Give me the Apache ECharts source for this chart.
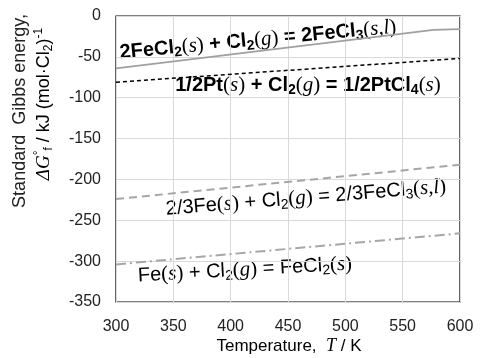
<!DOCTYPE html>
<html>
<head>
<meta charset="utf-8">
<script src="https://cdn.jsdelivr.net/npm/echarts@6/dist/echarts.min.js"></script>
<style>
  html, body { margin: 0; padding: 0; background: #fff; }
  #main { width: 480px; height: 358px; }
</style>
</head>
<body>
<div id="main"></div>
<script>
// 温度 (K) 和 标准生成吉布斯能 (kJ/mol Cl2)
const xTicks = [300, 350, 400, 450, 500, 550, 600];
const yTicks = [0, -50, -100, -150, -200, -250, -300, -350];

const feCl3Temps = [300, 577, 600];
const feCl3Vals = [-64, -17, -16];

const ptCl4Temps = [300, 600];
const ptCl4Vals = [-81, -52];

const fe23Temps = [300, 600];
const fe23Vals = [-224, -182];

const feCl2Temps = [300, 600];
const feCl2Vals = [-304, -266];

function pairs(xs, ys) {
    return xs.map((x, i) => [x, ys[i]]);
}

const SANS = 'Liberation Sans';
const SERIF = 'Liberation Serif';

function richSet(weight, color, size) {
    const lh = size + 4;
    return {
        t: { fontFamily: SANS, fontWeight: weight, fontSize: size, color: color, lineHeight: lh },
        s: { fontFamily: SANS, fontWeight: weight, fontSize: Math.round(size * 0.7), color: color, lineHeight: lh, verticalAlign: 'bottom' },
        p: { fontFamily: SERIF, fontSize: size + 1, color: color, lineHeight: lh },
        i: { fontFamily: SERIF, fontStyle: 'italic', fontSize: size + 1, color: color, lineHeight: lh }
    };
}

const chart = echarts.init(document.getElementById('main'), null, { renderer: 'canvas' });

const lineBase = { type: 'line', symbol: 'none', silent: true, animation: false };

const option = {
    animation: false,
    backgroundColor: '#fff',
    grid: {
        left: 116, right: 20, top: 16, bottom: 56,
        show: true, borderColor: '#000', borderWidth: 1.2
    },
    xAxis: {
        type: 'value', min: 300, max: 600, interval: 50,
        axisLine: { show: false }, axisTick: { show: false },
        splitLine: { lineStyle: { color: '#d9d9d9', width: 1 } },
        axisLabel: { fontFamily: SANS, fontSize: 16, color: '#222', margin: 17 }
    },
    yAxis: {
        type: 'value', min: -350, max: 0, interval: 50,
        axisLine: { show: false }, axisTick: { show: false },
        splitLine: { lineStyle: { color: '#d9d9d9', width: 1 } },
        axisLabel: { fontFamily: SANS, fontSize: 16, color: '#222', margin: 15 }
    },
    series: [
        Object.assign({}, lineBase, {
            name: 'FeCl3', data: pairs(feCl3Temps, feCl3Vals),
            lineStyle: { color: '#a0a0a0', width: 1.8, type: 'solid' }
        }),
        Object.assign({}, lineBase, {
            name: 'PtCl4', data: pairs(ptCl4Temps, ptCl4Vals),
            lineStyle: { color: '#000', width: 1.5, type: [4, 3] }
        }),
        Object.assign({}, lineBase, {
            name: 'Fe-FeCl3', data: pairs(fe23Temps, fe23Vals),
            lineStyle: { color: '#a6a6a6', width: 2, type: [8, 5] }
        }),
        Object.assign({}, lineBase, {
            name: 'Fe-FeCl2', data: pairs(feCl2Temps, feCl2Vals),
            lineStyle: { color: '#a6a6a6', width: 2, type: [10, 4, 2, 4] }
        })
    ],
    graphic: [
        {
            type: 'text', x: 258, y: 40, rotation: 5.3 * Math.PI / 180, silent: true,
            style: {
                text: '{t|2FeCl}{s|2}{p|(}{i|s}{p|)}{t| + Cl}{s|2}{p|(}{i|g}{p|)}{t| = 2FeCl}{s|3}{p|(}{i|s,l}{p|)}',
                align: 'center', verticalAlign: 'middle',
                rich: richSet('bold', '#000', 20)
            }
        },
        {
            type: 'text', x: 308, y: 85, silent: true,
            style: {
                text: '{t|1/2Pt}{p|(}{i|s}{p|)}{t| + Cl}{s|2}{p|(}{i|g}{p|)}{t| = 1/2PtCl}{s|4}{p|(}{i|s}{p|)}',
                align: 'center', verticalAlign: 'middle',
                rich: richSet('bold', '#000', 20)
            }
        },
        {
            type: 'text', x: 306, y: 198, rotation: 4.6 * Math.PI / 180, silent: true,
            style: {
                text: '{t|2/3Fe}{p|(}{i|s}{p|)}{t| + Cl}{s|2}{p|(}{i|g}{p|)}{t| = 2/3FeCl}{s|3}{p|(}{i|s,l}{p|)}',
                align: 'center', verticalAlign: 'middle',
                rich: richSet('normal', '#222', 20)
            }
        },
        {
            type: 'text', x: 245, y: 270, rotation: 3.2 * Math.PI / 180, silent: true,
            style: {
                text: '{t|Fe}{p|(}{i|s}{p|)}{t| + Cl}{s|2}{p|(}{i|g}{p|)}{t| = FeCl}{s|2}{p|(}{i|s}{p|)}',
                align: 'center', verticalAlign: 'middle',
                rich: richSet('normal', '#222', 20)
            }
        },
        // y轴标题
        {
            type: 'text', x: 20, y: 111, rotation: Math.PI / 2, silent: true,
            style: {
                text: 'Standard  Gibbs energy,',
                font: '18px "Liberation Sans"', fill: '#222',
                align: 'center', verticalAlign: 'middle'
            }
        },
        {
            type: 'text', x: 44, y: 104, rotation: Math.PI / 2, silent: true,
            style: {
                text: '{gi|ΔG}{sup|°}{sub|f}{y| / kJ (mol·Cl}{sub|2}{y|)}{sup|-1}',
                align: 'center', verticalAlign: 'middle',
                rich: {
                    gi: { fontFamily: SERIF, fontStyle: 'italic', fontSize: 19, color: '#222', lineHeight: 22 },
                    y: { fontFamily: SANS, fontSize: 18, color: '#222', lineHeight: 22 },
                    sub: { fontFamily: SANS, fontSize: 12, color: '#222', lineHeight: 22, verticalAlign: 'bottom' },
                    sup: { fontFamily: SANS, fontSize: 12, color: '#222', lineHeight: 22, verticalAlign: 'top' }
                }
            }
        },
        // x轴标题
        {
            type: 'text', x: 289, y: 346, silent: true,
            style: {
                text: '{y|Temperature,  }{i|T}{y| / K}',
                align: 'center', verticalAlign: 'middle',
                rich: {
                    y: { fontFamily: SANS, fontSize: 17, color: '#222' },
                    i: { fontFamily: SERIF, fontStyle: 'italic', fontSize: 18, color: '#222' }
                }
            }
        }
    ]
};

chart.setOption(option);
</script>
</body>
</html>
